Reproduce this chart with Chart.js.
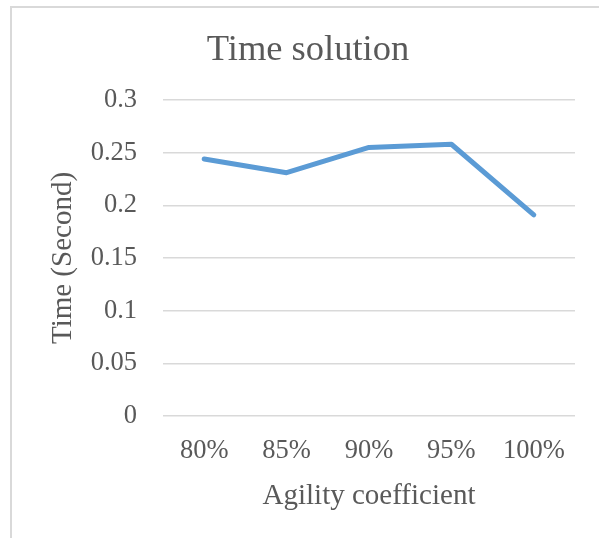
<!DOCTYPE html>
<html>
<head>
<meta charset="utf-8">
<script src="https://cdn.jsdelivr.net/npm/chart.js@4/dist/chart.umd.min.js"></script>
<style>
  html, body { margin: 0; padding: 0; background: #ffffff; overflow: hidden; }
  #wrap { position: relative; width: 599px; height: 538px; }
  #frame { position: absolute; left: 10px; top: 6px; width: 700px; height: 700px;
           border-top: 2px solid #d9d9d9; border-left: 2px solid #d9d9d9; box-sizing: border-box; }
  canvas { position: absolute; left: 0; top: 0; }
</style>
</head>
<body>
<div id="wrap">
  <div id="frame"></div>
  <canvas id="c" width="599" height="538"></canvas>
</div>
<script>
const categories = ['80%', '85%', '90%', '95%', '100%'];
const timeValues = [0.244, 0.231, 0.255, 0.258, 0.191];
const yTickLabels = ['0', '0.05', '0.1', '0.15', '0.2', '0.25', '0.3'];
const chartTitle = 'Time solution';
const xTitle = 'Agility coefficient';
const yTitle = 'Time (Second)';

const serif = "'Liberation Serif', 'Times New Roman', serif";
const textColor = '#595959';

new Chart(document.getElementById('c'), {
  type: 'line',
  data: {
    labels: categories,
    datasets: [{
      data: timeValues,
      borderColor: '#5b9bd5',
      backgroundColor: '#5b9bd5',
      borderWidth: 5,
      pointRadius: 0,
      tension: 0,
      borderCapStyle: 'round',
      borderJoinStyle: 'round'
    }]
  },
  options: {
    responsive: false,
    animation: false,
    layout: { padding: { left: 41, right: 24, top: 0, bottom: 0 } },
    plugins: {
      legend: { display: false },
      tooltip: { enabled: false },
      title: {
        display: true,
        text: chartTitle,
        color: textColor,
        font: { family: serif, size: 36.5, weight: 'normal' },
        padding: { top: 28.6, bottom: 27.6 }
      }
    },
    scales: {
      x: {
        offset: true,
        grid: { display: false, drawTicks: false },
        border: { display: false },
        ticks: { color: textColor, font: { family: serif, size: 26.5 }, padding: 19, maxRotation: 0 },
        title: { display: true, text: xTitle, color: textColor,
                 font: { family: serif, size: 29 }, padding: { top: 0, bottom: 24.6 } },
        afterFit: s => { s.height = 122; }
      },
      y: {
        min: 0, max: 0.3,
        grid: { color: '#d9d9d9', lineWidth: 1.5, drawTicks: false },
        border: { display: false },
        ticks: { stepSize: 0.05, color: textColor, font: { family: serif, size: 26.5 }, padding: 26,
                 callback: (v, i) => yTickLabels[i] },
        title: { display: true, text: yTitle, color: textColor,
                 font: { family: serif, size: 29 }, padding: { top: 4.6, bottom: 0 } },
        afterFit: s => { s.width = 122; }
      }
    }
  }
});
</script>
</body>
</html>
